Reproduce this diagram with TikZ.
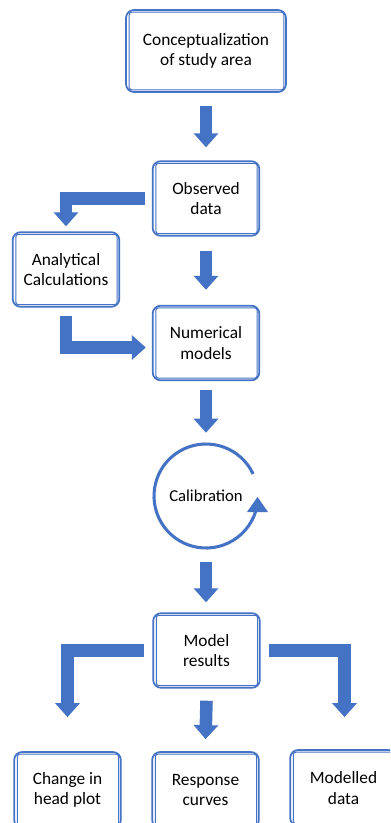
\documentclass[tikz,border=0pt]{standalone}
\usepackage{fontspec}
\setmainfont{Carlito}
\usetikzlibrary{arrows.meta,calc}
\definecolor{myblue}{RGB}{68,114,196}
\tikzset{
  box/.style={draw=myblue, line width=1.3pt, rounded corners=6pt, align=center,
    font=\fontsize{13}{15.5}\selectfont, minimum width=80pt, minimum height=56pt, inner sep=0pt},
  innerline/.style={draw=myblue, line width=0.8pt, rounded corners=2pt},
  barrow/.style={draw=myblue, line width=9.4pt, line join=miter,
    -{Triangle[width=18pt,length=10.5pt]}},
  calarc/.style={draw=myblue, line width=2.3pt}
}
\begin{document}
\begin{tikzpicture}[x=0.75pt,y=-0.75pt]
\clip (0,0) rectangle (390,823);
\fill[white] (0,0) rectangle (390,823);
\node[box, minimum width=120pt, minimum height=61.5pt] (concept) at (206,51) {Conceptualization\\of study area};
\node[box] (observed) at (206,198.5) {Observed\\data};
\node[box] (analyt) at (66,269.5) {Analytical\\Calculations};
\node[box] (numer) at (206,343) {Numerical\\models};
\node[circle, minimum size=78pt, inner sep=0pt, font=\fontsize{12.5}{15}\selectfont] (calib) at (206,496) {Calibration};
\node[box] (model) at (206.5,650.5) {Model\\results};
\node[box, minimum height=57pt] (change) at (67.5,790) {Change in\\head plot};
\node[box, minimum height=57pt] (response) at (205.5,790) {Response\\curves};
\node[box, minimum height=57pt] (modelled) at (343.5,788) {Modelled\\data};
\foreach \n in {concept,observed,analyt,numer,model,change,response,modelled}
  \draw[innerline] ($(\n.north west)+(4,3)$) rectangle ($(\n.south east)+(-3,-3)$);
% calibration loop
\draw[calarc] ($(calib.center)+(25:39pt)$) arc[start angle=25, end angle=343, radius=39pt];
\fill[myblue] ($(calib.center)+(41,16)$) -- ($(calib.center)+(62,16)$) -- ($(calib.center)+(51.5,1)$) -- cycle;
% arrows
\draw[barrow] ($(concept.south -| observed.north)+(0,13)$) -- ($(observed.north)+(0,-13)$);
\draw[barrow] ($(observed.south)+(0,14)$) -- ($(numer.north)+(0,-15)$);
\draw[barrow] ($(numer.south)+(0,9)$) -- ($(calib.north)+(0,-11)$);
\draw[barrow] ($(calib.south)+(0,14)$) -- ($(model.north -| calib.south)+(0,-10)$);
\draw[barrow] ($(model.south)+(0,12)$) -- ($(response.north)+(0,-12)$);
\draw[barrow] ($(observed.west)+(-7,0)$) -| ($(analyt.north)+(0,-5)$);
\draw[barrow] ($(analyt.south)+(0,8)$) |- ($(numer.west)+(-6,4.5)$);
\draw[barrow] ($(model.west)+(-8,0)$) -| ($(change.north)+(0,-34)$);
\draw[barrow] ($(model.east)+(8,0)$) -| ($(modelled.north)+(1,-32)$);
\end{tikzpicture}
\end{document}
